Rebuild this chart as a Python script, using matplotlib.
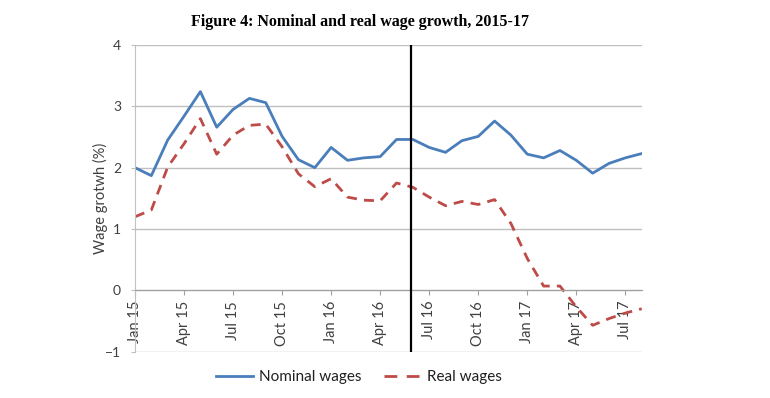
import matplotlib
matplotlib.use("Agg")
import matplotlib.pyplot as plt
import numpy as np

# Data (monthly, Jan 2015 - Aug 2017)
months = ["Jan 15", "Feb 15", "Mar 15", "Apr 15", "May 15", "Jun 15", "Jul 15", "Aug 15",
          "Sep 15", "Oct 15", "Nov 15", "Dec 15", "Jan 16", "Feb 16", "Mar 16", "Apr 16",
          "May 16", "Jun 16", "Jul 16", "Aug 16", "Sep 16", "Oct 16", "Nov 16", "Dec 16",
          "Jan 17", "Feb 17", "Mar 17", "Apr 17", "May 17", "Jun 17", "Jul 17", "Aug 17"]
nominal = [2.00, 1.87, 2.45, 2.84, 3.24, 2.66, 2.95, 3.13, 3.06, 2.51, 2.13, 2.00,
           2.33, 2.12, 2.16, 2.18, 2.46, 2.46, 2.33, 2.25, 2.44, 2.51, 2.76, 2.53,
           2.22, 2.16, 2.28, 2.12, 1.91, 2.07, 2.16, 2.23]
real = [1.20, 1.31, 2.01, 2.39, 2.80, 2.22, 2.53, 2.69, 2.71, 2.34, 1.90, 1.69,
        1.82, 1.52, 1.47, 1.46, 1.75, 1.68, 1.52, 1.38, 1.45, 1.40, 1.48, 1.09,
        0.52, 0.07, 0.07, -0.27, -0.57, -0.46, -0.37, -0.30]
tick_labels = months[::3]
brexit_month = 16.9

fig = plt.figure(figsize=(7.7, 3.98), dpi=100)
ax = fig.add_axes([135/770, 1-351.7/398, (641.7-135)/770, (351.7-45)/398])

# spine position first (it resets ticks)
for s in ["top", "right"]:
    ax.spines[s].set_visible(False)
ax.spines["left"].set_color("#C0C0C0")
ax.spines["bottom"].set_position(("data", 0))
ax.spines["bottom"].set_color("#A0A0A0")

x = np.arange(len(months))
ax.plot(x, nominal, color="#4A7EBB", lw=2.0, solid_joinstyle="round", label="Nominal wages")
ax.plot(x, real, color="#BE4B48", lw=2.0, dashes=(3.6, 2.6), label="Real wages")
ax.axvline(brexit_month, ymin=0, ymax=1, color="black", lw=1.6, zorder=5)

ax.set_xlim(0, len(months)-1)
ax.set_ylim(-1, 4)
ax.set_yticks([-1, 0, 1, 2, 3, 4])
ax.set_xticks(x[::3])
ax.set_xticklabels(tick_labels, rotation=90, fontsize=10.5, color="#404040",
                   family=["Lato", "DejaVu Sans"])
for lab in ax.get_yticklabels():
    lab.set_family(["Lato", "DejaVu Sans"])
ax.tick_params(axis="y", labelsize=10, labelcolor="#404040", length=3, color="#BFBFBF", pad=7)
ax.tick_params(axis="x", length=3.5, color="#A0A0A0", pad=4)

ax.grid(axis="y", color="#C0C0C0", lw=1.0)
ax.set_axisbelow(True)

ax.set_ylabel("Wage grotwh (%)", fontsize=10.5, color="#404040", family=["Lato", "DejaVu Sans"],
              labelpad=-2)

fig.text(0.4675, 1-22/398, "Figure 4: Nominal and real wage growth, 2015-17",
         ha="center", va="center", fontsize=11.5, fontweight="bold",
         family=["Liberation Serif", "DejaVu Serif"])

leg = fig.legend(loc="center", bbox_to_anchor=(359/770, 1-377/398), ncol=2, frameon=False,
                 prop={"family": ["Lato", "DejaVu Sans"], "size": 11}, handlelength=2.4,
                 columnspacing=1.5, handletextpad=0.4)
leg.legend_handles[1].set_dashes((4.6, 3.4))
for t in leg.get_texts():
    t.set_color("#202020")

fig.savefig("out.png", dpi=100)
